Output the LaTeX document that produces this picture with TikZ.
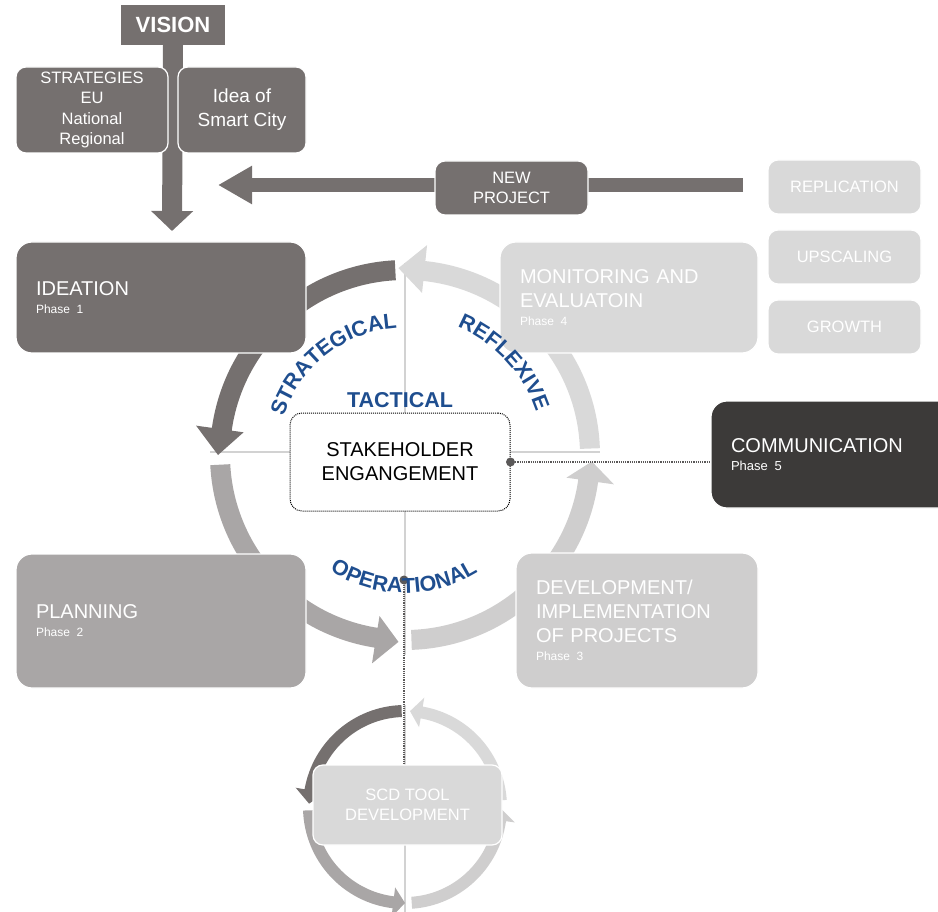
\documentclass[tikz,border=0pt]{standalone}
\usepackage{fontspec}
\setmainfont{Liberation Sans}
\usetikzlibrary{arrows.meta,decorations.text}
\definecolor{ideagray}{HTML}{75706F}
\definecolor{plangray}{HTML}{A9A6A6}
\definecolor{devgray}{HTML}{CFCECE}
\definecolor{evalgray}{HTML}{D9D9D9}
\definecolor{commgray}{HTML}{3C3A39}
\definecolor{tacblue}{HTML}{1F4E8F}
\definecolor{divgray}{HTML}{D2D2D2}
\definecolor{dotgray}{HTML}{5A5858}
\newcommand{\arcfont}{\color{tacblue}\bfseries\fontsize{21.5}{22}\selectfont}

\begin{document}
\begin{tikzpicture}[x=1pt, y=1pt,
	smallbox/.style={rounded corners=10pt, draw=white, line width=1.2pt, text=white, align=center, inner sep=0pt, font=\fontsize{16.5}{20.5}\selectfont},
	phasebox/.style={rounded corners=16pt, draw=white, line width=1.2pt, text=white, align=left, inner xsep=20pt, inner ysep=0pt, font=\fontsize{20}{24}\selectfont},
	ringdot/.style={circle, fill=dotgray, inner sep=0pt, minimum size=9pt},
	dotline/.style={dotgray, densely dotted, line width=1.2pt},
	divline/.style={divgray, line width=1.2pt}]
	\useasboundingbox (0,0) rectangle (938,-912);

	% vision and the arrows into the cycle
	\node[fill=ideagray, text=white, font=\bfseries\fontsize{22}{24}\selectfont, minimum width=104pt, minimum height=40pt, inner sep=0pt] (vision) at (173,-25) {VISION};
	\coordinate (vtip) at (172,-231);
	\draw[ideagray, line width=20pt, -{Triangle[length=20pt, width=41pt]}] (vision.south) -- (vtip);
	\coordinate (hstart) at (743,-185);
	\coordinate (htip) at (218,-185);
	\draw[ideagray, line width=14pt, -{Triangle[length=34pt, width=36pt]}] (hstart) -- (htip);

	\node[smallbox, fill=ideagray, minimum width=152pt, minimum height=86pt] (strategies) at (92,-110) {STRATEGIES\\EU\\National\\Regional};
	\node[smallbox, fill=ideagray, minimum width=128pt, minimum height=86pt, font=\fontsize{19}{24}\selectfont] (idea) at (242,-110) {Idea of\\Smart City};
	\node[smallbox, fill=ideagray, minimum width=153pt, minimum height=54pt] (newproj) at (511.5,-188) {NEW\\PROJECT};
	\node[smallbox, fill=evalgray, minimum width=153pt, minimum height=54pt] (repl) at (844.5,-187) {REPLICATION};
	\node[smallbox, fill=evalgray, minimum width=153pt, minimum height=54pt] (upsc) at (844.5,-257) {UPSCALING};
	\node[smallbox, fill=evalgray, minimum width=153pt, minimum height=54pt] (growth) at (844.5,-327) {GROWTH};

	% big cycle
	\draw[divline] (405,-263) -- (405,-655);
	\draw[divline] (210,-452) -- (600,-452);
	\begin{scope}[shift={(405,-455)}]
		\foreach \col/\a/\b/\c in {ideagray/93/172/180, plangray/183/261/268, devgray/272/352/358, evalgray/2/84/92}
			\fill[\col] (\a:195) arc[start angle=\a, end angle=\b, radius=195] -- (\b:211) -- (\c:187) -- (\b:163) -- (\b:175) arc[start angle=\b, end angle=\a, radius=175] -- cycle;
	\end{scope}

	% small cycle
	\draw[divline] (405,-705) -- (405,-912);
	\begin{scope}[shift={(405,-807)}]
		\foreach \col/\a/\b/\c in {ideagray/92/170/178, plangray/182/263/270, devgray/274/352/359, evalgray/4/80/87}
			\fill[\col] (\a:102) arc[start angle=\a, end angle=\b, radius=102] -- (\b:111) -- (\c:96) -- (\b:81) -- (\b:90) arc[start angle=\b, end angle=\a, radius=90] -- cycle;
	\end{scope}

	% phases
	\node[phasebox, fill=ideagray, minimum width=290pt, minimum height=111pt, text width=250pt] (ideation) at (161,-297.5) {IDEATION\\[-6pt]{\fontsize{12}{14}\selectfont Phase 1}};
	\node[phasebox, fill=evalgray, minimum width=258pt, minimum height=111pt, text width=218pt] (monitor) at (629,-297.5) {MONITORING AND\\EVALUATOIN\\[-6pt]{\fontsize{12}{14}\selectfont Phase 4}};
	\node[phasebox, fill=commgray, minimum width=249pt, minimum height=107pt, text width=209pt] (comm) at (835.5,-454.5) {COMMUNICATION\\[-6pt]{\fontsize{13}{14}\selectfont Phase 5}};
	\node[phasebox, fill=plangray, minimum width=290pt, minimum height=134pt, text width=250pt] (planning) at (161,-621) {PLANNING\\[-6pt]{\fontsize{12}{14}\selectfont Phase 2}};
	\node[phasebox, fill=devgray, minimum width=242pt, minimum height=135pt, text width=202pt] (develop) at (637,-620.5) {DEVELOPMENT/\\IMPLEMENTATION\\OF PROJECTS\\[-6pt]{\fontsize{12}{14}\selectfont Phase 3}};
	\node[smallbox, fill=evalgray, minimum width=189pt, minimum height=80pt] (scd) at (407.5,-805) {SCD TOOL\\DEVELOPMENT};

	% centre
	\node[draw=black, densely dotted, line width=1pt, fill=white, rounded corners=12pt, minimum width=220pt, minimum height=98pt, align=center, font=\fontsize{20}{24}\selectfont] (stake) at (400,-462) {STAKEHOLDER\\ENGANGEMENT};
	\node[ringdot] (sdot) at (stake.east) {};
	\draw[dotline] (sdot) -- (sdot -| comm.west);
	\node[ringdot] (opdot) at (404,-580) {};
	\draw[dotline] (opdot) -- (opdot |- scd.north);

	\node[font=\arcfont] (tactical) at (400,-400) {TACTICAL};
	\begin{scope}[shift={(405,-455)}]
		\path[decorate, decoration={text along path, text align=center, text={|\arcfont|STRATEGICAL}}] (168:127) arc[start angle=168, end angle=88, radius=127];
		\path[decorate, decoration={text along path, text align=center, text={|\arcfont|REFLEXIVE}}] (88:138) arc[start angle=88, end angle=-2, radius=138];
		\path[decorate, decoration={text along path, text align=center, text={|\arcfont|OPERATIONAL}}] (215:138) arc[start angle=215, end angle=324, radius=138];
	\end{scope}
\end{tikzpicture}
\end{document}
